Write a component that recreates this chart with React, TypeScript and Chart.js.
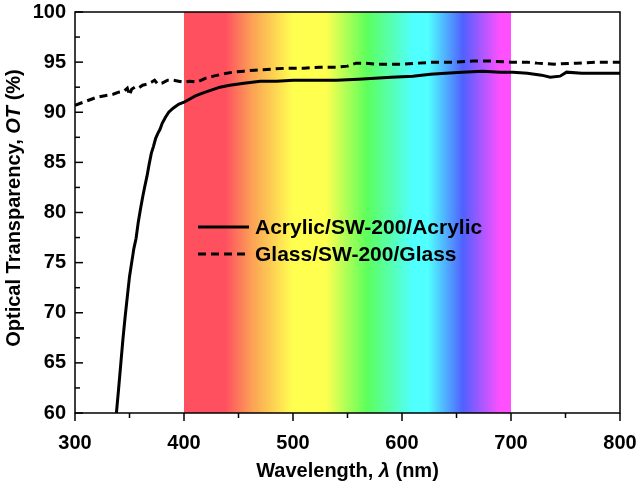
import React, { useEffect, useRef } from "react";
import { Chart, registerables } from "chart.js";

Chart.register(...registerables);

// Acrylic/SW-200/Acrylic (solid)
const acrylicWl = [338, 340, 342, 344, 346, 348, 350, 352, 354, 356, 358, 360, 362, 364, 366, 368, 370, 372, 374, 376, 378, 380, 383, 386, 390, 395, 400, 405, 410, 417, 425, 433, 442, 455, 470, 485, 500, 520, 540, 560, 575, 590, 610, 626, 640, 655, 674, 690, 702, 715, 728, 736, 745, 751, 765, 780, 800];
const acrylicOT = [60, 62.4, 64.9, 67.4, 69.6, 71.6, 73.6, 75.0, 76.4, 77.4, 79.0, 80.3, 81.5, 82.6, 83.6, 84.8, 85.9, 86.6, 87.4, 87.9, 88.3, 88.9, 89.5, 90.0, 90.4, 90.8, 91.0, 91.3, 91.6, 91.9, 92.2, 92.5, 92.7, 92.9, 93.1, 93.1, 93.2, 93.2, 93.2, 93.3, 93.4, 93.5, 93.6, 93.8, 93.9, 94.0, 94.1, 94.0, 94.0, 93.9, 93.7, 93.5, 93.6, 94.0, 93.9, 93.9, 93.9];

// Glass/SW-200/Glass (dashed)
const glassWl = [300, 305, 310, 315, 320, 325, 330, 335, 340, 345, 348, 350, 352, 355, 358, 362, 366, 370, 373, 376, 380, 385, 390, 395, 400, 405, 412, 420, 427, 435, 445, 455, 465, 480, 495, 510, 525, 540, 550, 558, 565, 575, 590, 601, 615, 630, 650, 665, 681, 700, 715, 724, 740, 760, 780, 800];
const glassOT = [90.7, 90.9, 91.1, 91.3, 91.5, 91.6, 91.7, 91.8, 92.0, 92.1, 92.4, 91.7, 92.3, 92.5, 92.4, 92.7, 92.8, 93.0, 93.2, 92.8, 92.9, 93.2, 93.2, 93.1, 93.0, 93.1, 93.0, 93.4, 93.6, 93.8, 94.0, 94.1, 94.2, 94.3, 94.4, 94.4, 94.5, 94.5, 94.6, 94.9, 94.9, 94.8, 94.8, 94.8, 94.9, 95.0, 95.0, 95.1, 95.1, 95.0, 95.0, 94.9, 94.8, 94.9, 95.0, 95.0];

const seriesLabels = ["Acrylic/SW-200/Acrylic", "Glass/SW-200/Glass"];

// visible spectrum band (wavelength, colour)
const spectrumStops: [number, string][] = [
  [400, "#ff5060"],
  [438, "#ff5060"],
  [462, "#fba055"],
  [500, "#ffff50"],
  [530, "#ffff50"],
  [568, "#5cff5c"],
  [610, "#50ffff"],
  [624, "#50ffff"],
  [656, "#5060ff"],
  [690, "#ff50ff"],
  [700, "#ff50ff"],
];

const FONT = '"Liberation Sans", Arial, sans-serif';

const decorPlugin = {
  id: "decor",
  beforeDatasetsDraw(chart: any) {
    const { ctx, chartArea, scales } = chart;
    const x = scales.x;
    const x0 = x.getPixelForValue(spectrumStops[0][0]);
    const x1 = x.getPixelForValue(spectrumStops[spectrumStops.length - 1][0]);
    const g = ctx.createLinearGradient(x0, 0, x1, 0);
    for (const [wl, c] of spectrumStops) {
      g.addColorStop((x.getPixelForValue(wl) - x0) / (x1 - x0), c);
    }
    ctx.save();
    ctx.fillStyle = g;
    ctx.fillRect(x0, chartArea.top, x1 - x0, chartArea.bottom - chartArea.top);
    ctx.restore();
  },
  afterDraw(chart: any) {
    const { ctx, chartArea, scales } = chart;
    const { left, right, top, bottom } = chartArea;
    const xs = scales.x;
    const ys = scales.y;
    ctx.save();
    ctx.strokeStyle = "#000";
    ctx.lineWidth = 1.5;
    ctx.strokeRect(left, top, right - left, bottom - top);
    // x ticks (outward)
    ctx.lineWidth = 1.5;
    for (let v = 300; v <= 800; v += 50) {
      const px = xs.getPixelForValue(v);
      const len = v % 100 === 0 ? 8 : 5;
      ctx.beginPath();
      ctx.moveTo(px, bottom);
      ctx.lineTo(px, bottom + len);
      ctx.stroke();
    }
    // y ticks (inward)
    for (let v = 60; v <= 100; v += 2.5) {
      const py = ys.getPixelForValue(v);
      const len = v % 5 === 0 ? 8 : 5;
      ctx.beginPath();
      ctx.moveTo(left, py);
      ctx.lineTo(left + len, py);
      ctx.stroke();
    }
    // legend
    const lx0 = 198, lx1 = 249;
    const rows = [227, 254];
    ctx.lineWidth = 3;
    rows.forEach((ry, i) => {
      ctx.setLineDash(i === 0 ? [] : [8, 5]);
      ctx.beginPath();
      ctx.moveTo(lx0, ry);
      ctx.lineTo(lx1, ry);
      ctx.stroke();
    });
    ctx.setLineDash([]);
    ctx.fillStyle = "#000";
    ctx.font = `bold 21px ${FONT}`;
    ctx.textAlign = "left";
    ctx.textBaseline = "middle";
    rows.forEach((ry, i) => ctx.fillText(seriesLabels[i], 255, ry + 1));

    // titles with italic symbols
    const drawMixed = (parts: [string, boolean][], cx: number, cy: number) => {
      let total = 0;
      const widths = parts.map(([t, it]) => {
        ctx.font = `${it ? "italic " : ""}bold 20px ${FONT}`;
        const w = ctx.measureText(t).width;
        total += w;
        return w;
      });
      let pos = cx - total / 2;
      ctx.textAlign = "left";
      ctx.textBaseline = "alphabetic";
      parts.forEach(([t, it], i) => {
        ctx.font = `${it ? "italic " : ""}bold 20px ${FONT}`;
        ctx.fillText(t, pos, cy);
        pos += widths[i];
      });
    };
    drawMixed([["Wavelength, ", false], ["λ", true], [" (nm)", false]], (left + right) / 2, 477);
    ctx.save();
    ctx.translate(20, 208);
    ctx.rotate(-Math.PI / 2);
    drawMixed([["Optical Transparency, ", false], ["OT", true], [" (%)", false]], 0, 0);
    ctx.restore();
    ctx.restore();
  },
};

export default function App() {
  const ref = useRef<HTMLCanvasElement>(null);
  useEffect(() => {
    document.body.style.margin = "0";
    const chart = new Chart(ref.current!, {
      type: "line",
      data: {
        datasets: [
          {
            label: seriesLabels[0],
            data: acrylicWl.map((w, i) => ({ x: w, y: acrylicOT[i] })),
            borderColor: "#000",
            borderWidth: 3,
            pointRadius: 0,
            tension: 0,
          },
          {
            label: seriesLabels[1],
            data: glassWl.map((w, i) => ({ x: w, y: glassOT[i] })),
            borderColor: "#000",
            borderWidth: 3,
            borderDash: [8, 5],
            pointRadius: 0,
            tension: 0,
          },
        ],
      },
      options: {
        responsive: false,
        animation: false,
        layout: { padding: { top: 12, right: 24, left: 0, bottom: 0 } },
        plugins: { legend: { display: false }, tooltip: { enabled: false } },
        scales: {
          x: {
            type: "linear",
            min: 300,
            max: 800,
            grid: { display: false, drawTicks: false },
            border: { display: false },
            ticks: {
              stepSize: 100,
              padding: 18,
              color: "#000",
              font: { family: FONT, size: 20, weight: "bold" },
              maxRotation: 0,
            },
            afterFit: (s: any) => {
              s.height = 68;
              s.paddingLeft = 0;
              s.paddingRight = 0;
            },
          },
          y: {
            min: 60,
            max: 100,
            grid: { display: false, drawTicks: false },
            border: { display: false },
            ticks: {
              stepSize: 5,
              padding: 9,
              color: "#000",
              font: { family: FONT, size: 20, weight: "bold" },
            },
            afterFit: (s: any) => {
              s.width = 75;
              s.paddingTop = 0;
              s.paddingBottom = 0;
            },
          },
        },
      },
      plugins: [decorPlugin],
    });
    return () => chart.destroy();
  }, []);
  return (
    <div style={{ position: "fixed", left: 0, top: 0, width: 644, height: 481, background: "#fff" }}>
      <canvas ref={ref} width={644} height={481} />
    </div>
  );
}
